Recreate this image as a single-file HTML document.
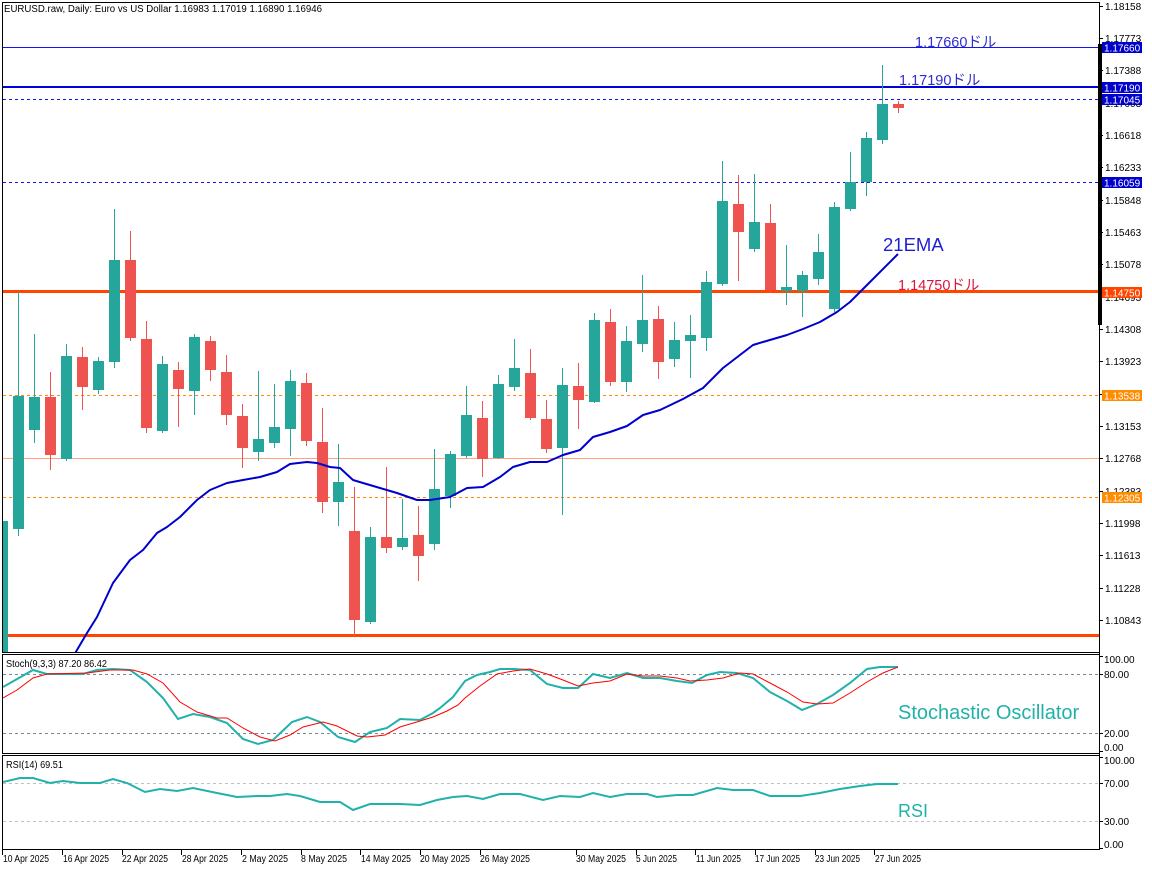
<!DOCTYPE html>
<html><head><meta charset="utf-8"><style>
html,body{margin:0;padding:0;background:#fff;}
svg{display:block;}
</style></head><body>
<svg width="1152" height="870" viewBox="0 0 1152 870" xmlns="http://www.w3.org/2000/svg" font-family="'Liberation Sans', 'Noto Sans CJK JP', sans-serif">
<defs>
<clipPath id="cm"><rect x="3" y="3" width="1096" height="649"/></clipPath>
<clipPath id="cs"><rect x="3" y="655" width="1096" height="98"/></clipPath>
<clipPath id="cr"><rect x="3" y="756" width="1096" height="93"/></clipPath>
</defs>
<rect width="1152" height="870" fill="#fff"/>

<!-- main panel horizontal lines -->
<g clip-path="url(#cm)" shape-rendering="crispEdges">
<rect x="3" y="47" width="1096" height="1" fill="#1414F0"/>
<rect x="3" y="86" width="1096" height="2" fill="#0000D8"/>
<line x1="3" y1="99.5" x2="1099" y2="99.5" stroke="#1414F0" stroke-width="1" stroke-dasharray="3,3"/>
<line x1="3" y1="182.5" x2="1099" y2="182.5" stroke="#1414F0" stroke-width="1" stroke-dasharray="3,3"/>
<rect x="3" y="290" width="1096" height="3" fill="#FF4500"/>
<line x1="3" y1="395.5" x2="1099" y2="395.5" stroke="#FF8C00" stroke-width="1" stroke-dasharray="3,3"/>
<rect x="3" y="458" width="1096" height="1" fill="#FFA07A"/>
<line x1="3" y1="497.5" x2="1099" y2="497.5" stroke="#FF8C00" stroke-width="1" stroke-dasharray="3,3"/>
<rect x="3" y="634" width="1096" height="3" fill="#FF4500"/>

<!-- green candles -->
<g fill="#26A69A">
<rect x="-3" y="521" width="11" height="140"/>
<rect x="18" y="292" width="1" height="244"/><rect x="13" y="396" width="11" height="133"/>
<rect x="34" y="334" width="1" height="109"/><rect x="29" y="397" width="11" height="33"/>
<rect x="66" y="344" width="1" height="117"/><rect x="61" y="356" width="11" height="103"/>
<rect x="98" y="357" width="1" height="37"/><rect x="93" y="361" width="11" height="29"/>
<rect x="114" y="209" width="1" height="159"/><rect x="109" y="260" width="11" height="102"/>
<rect x="162" y="356" width="1" height="77"/><rect x="157" y="364" width="11" height="67"/>
<rect x="194" y="334" width="1" height="81"/><rect x="189" y="337" width="11" height="54"/>
<rect x="258" y="371" width="1" height="90"/><rect x="253" y="439" width="11" height="13"/>
<rect x="274" y="384" width="1" height="64"/><rect x="269" y="427" width="11" height="16"/>
<rect x="290" y="370" width="1" height="86"/><rect x="285" y="381" width="11" height="48"/>
<rect x="338" y="444" width="1" height="82"/><rect x="333" y="482" width="11" height="20"/>
<rect x="370" y="527" width="1" height="97"/><rect x="365" y="537" width="11" height="85"/>
<rect x="402" y="499" width="1" height="51"/><rect x="397" y="538" width="11" height="9"/>
<rect x="434" y="449" width="1" height="101"/><rect x="429" y="489" width="11" height="55"/>
<rect x="450" y="451" width="1" height="57"/><rect x="445" y="454" width="11" height="42"/>
<rect x="466" y="386" width="1" height="72"/><rect x="461" y="415" width="11" height="41"/>
<rect x="498" y="375" width="1" height="84"/><rect x="493" y="384" width="11" height="74"/>
<rect x="514" y="339" width="1" height="52"/><rect x="509" y="368" width="11" height="19"/>
<rect x="562" y="368" width="1" height="147"/><rect x="557" y="385" width="11" height="63"/>
<rect x="594" y="313" width="1" height="90"/><rect x="589" y="320" width="11" height="82"/>
<rect x="626" y="326" width="1" height="66"/><rect x="621" y="341" width="11" height="41"/>
<rect x="642" y="275" width="1" height="77"/><rect x="637" y="320" width="11" height="24"/>
<rect x="674" y="322" width="1" height="45"/><rect x="669" y="340" width="11" height="19"/>
<rect x="690" y="315" width="1" height="63"/><rect x="685" y="335" width="11" height="6"/>
<rect x="706" y="271" width="1" height="80"/><rect x="701" y="282" width="11" height="56"/>
<rect x="722" y="161" width="1" height="125"/><rect x="717" y="201" width="11" height="83"/>
<rect x="754" y="174" width="1" height="78"/><rect x="749" y="222" width="11" height="27"/>
<rect x="786" y="245" width="1" height="60"/><rect x="781" y="287" width="11" height="4"/>
<rect x="802" y="271" width="1" height="46"/><rect x="797" y="275" width="11" height="16"/>
<rect x="818" y="234" width="1" height="51"/><rect x="813" y="252" width="11" height="27"/>
<rect x="834" y="202" width="1" height="110"/><rect x="829" y="207" width="11" height="102"/>
<rect x="850" y="152" width="1" height="59"/><rect x="845" y="182" width="11" height="27"/>
<rect x="866" y="132" width="1" height="64"/><rect x="861" y="138" width="11" height="44"/>
<rect x="882" y="65" width="1" height="79"/><rect x="877" y="104" width="11" height="36"/>
</g>
<!-- red candles -->
<g fill="#EF5350">
<rect x="50" y="372" width="1" height="98"/><rect x="45" y="397" width="11" height="58"/>
<rect x="82" y="347" width="1" height="63"/><rect x="77" y="357" width="11" height="30"/>
<rect x="130" y="231" width="1" height="110"/><rect x="125" y="260" width="11" height="78"/>
<rect x="146" y="321" width="1" height="112"/><rect x="141" y="339" width="11" height="89"/>
<rect x="178" y="362" width="1" height="65"/><rect x="173" y="370" width="11" height="19"/>
<rect x="210" y="336" width="1" height="45"/><rect x="205" y="341" width="11" height="29"/>
<rect x="226" y="355" width="1" height="70"/><rect x="221" y="372" width="11" height="43"/>
<rect x="242" y="404" width="1" height="64"/><rect x="237" y="416" width="11" height="32"/>
<rect x="306" y="373" width="1" height="73"/><rect x="301" y="383" width="11" height="58"/>
<rect x="322" y="408" width="1" height="105"/><rect x="317" y="442" width="11" height="60"/>
<rect x="354" y="487" width="1" height="149"/><rect x="349" y="531" width="11" height="89"/>
<rect x="386" y="467" width="1" height="86"/><rect x="381" y="537" width="11" height="11"/>
<rect x="418" y="506" width="1" height="75"/><rect x="413" y="535" width="11" height="21"/>
<rect x="482" y="401" width="1" height="76"/><rect x="477" y="418" width="11" height="41"/>
<rect x="530" y="349" width="1" height="71"/><rect x="525" y="373" width="11" height="45"/>
<rect x="546" y="400" width="1" height="53"/><rect x="541" y="419" width="11" height="30"/>
<rect x="578" y="363" width="1" height="66"/><rect x="573" y="386" width="11" height="14"/>
<rect x="610" y="309" width="1" height="77"/><rect x="605" y="322" width="11" height="60"/>
<rect x="658" y="306" width="1" height="73"/><rect x="653" y="319" width="11" height="43"/>
<rect x="738" y="175" width="1" height="106"/><rect x="733" y="204" width="11" height="28"/>
<rect x="770" y="204" width="1" height="89"/><rect x="765" y="223" width="11" height="67"/>
<rect x="898" y="101" width="1" height="12"/><rect x="893" y="104" width="11" height="4"/>
</g>
</g>

<!-- EMA -->
<g clip-path="url(#cm)">
<polyline fill="none" stroke="#0000CD" stroke-width="2" stroke-linejoin="round" points="70,662 77,650 87,633 97,617 113,583 130,560 143,550 157,533 167,527 180,517 197,500 210,490 227,483 243,480 260,477 277,472 290,464 307,462 317,463 330,467 340,468 353,480 363,483 380,488 397,493 417,500 430,500 450,497 467,488 483,487 500,477 513,467 530,462 547,462 563,455 580,450 593,437 610,432 627,426 643,415 660,410 683,399 703,388 723,368 753,345 763,342 787,335 803,329 820,322 837,312 850,302 870,282 898,254"/>
</g>

<!-- line labels -->
<text x="915" y="47" font-size="14.5" fill="#3030CC">1.17660ドル</text>
<text x="899" y="85" font-size="14.5" fill="#3030CC">1.17190ドル</text>
<text x="883" y="251" font-size="18.5" fill="#1F1FD0">21EMA</text>
<text x="898" y="290" font-size="14.5" fill="#DC143C">1.14750ドル</text>

<!-- header -->
<text x="4" y="12" font-size="10" fill="#000" textLength="318" lengthAdjust="spacingAndGlyphs">EURUSD.raw, Daily:  Euro vs US Dollar  1.16983 1.17019 1.16890 1.16946</text>

<!-- Stoch panel -->
<g clip-path="url(#cs)">
<line x1="3" y1="674.5" x2="1099" y2="674.5" stroke="#778899" stroke-width="1" stroke-dasharray="3,3"/>
<line x1="3" y1="733.5" x2="1099" y2="733.5" stroke="#778899" stroke-width="1" stroke-dasharray="3,3"/>
<polyline fill="none" stroke="#20B2AA" stroke-width="2" points="3,687 33,670 47,674 67,674 83,674 97,670 113,669 130,670 147,682 163,698 178,719 193,714 210,717 227,723 243,739 258,744 273,740 292,722 307,717 320,722 338,737 355,742 370,732 387,728 400,719 420,720 433,713 440,708 453,697 465,681 477,675 490,672 500,669 513,669 530,670 547,684 563,688 578,688 593,674 610,678 627,673 643,678 660,678 677,681 692,683 707,675 720,672 737,673 753,678 770,692 787,701 802,710 817,704 833,695 850,683 867,669 880,667 898,667"/>
<polyline fill="none" stroke="#FF0000" stroke-width="1" points="3,698 17,690 33,678 47,674 87,673 110,670 133,670 147,674 163,683 180,702 197,712 217,718 227,718 243,728 260,737 275,741 290,735 303,727 323,722 337,726 357,736 367,737 385,735 400,727 420,721 433,717 447,711 458,705 465,698 480,686 497,674 513,671 530,669 547,674 563,680 578,686 593,683 610,681 627,674 643,676 660,676 677,678 690,681 707,680 723,678 740,673 753,674 770,683 787,692 803,702 817,704 833,703 850,693 867,682 883,673 898,667"/>
</g>
<text x="6" y="667" font-size="10" fill="#000" textLength="101" lengthAdjust="spacingAndGlyphs">Stoch(9,3,3) 87.20 86.42</text>
<text x="898" y="719" font-size="20" fill="#20B2AA">Stochastic Oscillator</text>

<!-- RSI panel -->
<g clip-path="url(#cr)">
<line x1="3" y1="783.5" x2="1099" y2="783.5" stroke="#C0C0C0" stroke-width="1" stroke-dasharray="3,3"/>
<line x1="3" y1="821.5" x2="1099" y2="821.5" stroke="#C0C0C0" stroke-width="1" stroke-dasharray="3,3"/>
<polyline fill="none" stroke="#20B2AA" stroke-width="2" points="3,782 20,778 33,778 50,783 63,781 80,783 100,783 113,779 127,783 145,792 160,789 177,791 193,788 217,793 237,797 257,796 270,796 287,794 300,796 320,802 340,802 353,810 370,804 400,804 420,805 437,800 453,797 467,796 483,799 500,794 520,794 543,800 560,796 580,797 593,793 610,797 627,794 647,794 657,797 677,795 693,795 717,788 733,790 753,790 770,796 800,796 820,793 840,789 860,786 877,784 898,784"/>
</g>
<text x="6" y="768" font-size="10" fill="#000" textLength="57" lengthAdjust="spacingAndGlyphs">RSI(14) 69.51</text>
<text x="898" y="817" font-size="18" fill="#20B2AA">RSI</text>

<!-- frames -->
<g shape-rendering="crispEdges" stroke="#000" stroke-width="1" fill="none">
<line x1="2" y1="2.5" x2="1100" y2="2.5"/>
<line x1="2.5" y1="2" x2="2.5" y2="653"/>
<line x1="2" y1="652.5" x2="1100" y2="652.5"/>
<line x1="2" y1="654.5" x2="1100" y2="654.5"/>
<line x1="2.5" y1="654" x2="2.5" y2="754"/>
<line x1="2" y1="753.5" x2="1100" y2="753.5"/>
<line x1="2" y1="755.5" x2="1100" y2="755.5"/>
<line x1="2.5" y1="755" x2="2.5" y2="850"/>
<line x1="2" y1="849.5" x2="1100" y2="849.5"/>
<line x1="1099.5" y1="2" x2="1099.5" y2="850"/>
</g>
<rect x="1098" y="44" width="4" height="281" fill="#000"/>

<!-- price axis ticks -->
<g stroke="#000" stroke-width="1" shape-rendering="crispEdges">
<line x1="1099" y1="6.5" x2="1103" y2="6.5"/><line x1="1099" y1="38.5" x2="1103" y2="38.5"/>
<line x1="1099" y1="70.5" x2="1103" y2="70.5"/><line x1="1099" y1="103.5" x2="1103" y2="103.5"/>
<line x1="1099" y1="135.5" x2="1103" y2="135.5"/><line x1="1099" y1="167.5" x2="1103" y2="167.5"/>
<line x1="1099" y1="200.5" x2="1103" y2="200.5"/><line x1="1099" y1="232.5" x2="1103" y2="232.5"/>
<line x1="1099" y1="264.5" x2="1103" y2="264.5"/><line x1="1099" y1="297.5" x2="1103" y2="297.5"/>
<line x1="1099" y1="329.5" x2="1103" y2="329.5"/><line x1="1099" y1="361.5" x2="1103" y2="361.5"/>
<line x1="1099" y1="394.5" x2="1103" y2="394.5"/><line x1="1099" y1="426.5" x2="1103" y2="426.5"/>
<line x1="1099" y1="458.5" x2="1103" y2="458.5"/><line x1="1099" y1="491.5" x2="1103" y2="491.5"/>
<line x1="1099" y1="523.5" x2="1103" y2="523.5"/><line x1="1099" y1="555.5" x2="1103" y2="555.5"/>
<line x1="1099" y1="588.5" x2="1103" y2="588.5"/><line x1="1099" y1="620.5" x2="1103" y2="620.5"/>
<line x1="1099" y1="656.5" x2="1103" y2="656.5"/><line x1="1099" y1="674.5" x2="1103" y2="674.5"/>
<line x1="1099" y1="733.5" x2="1103" y2="733.5"/><line x1="1099" y1="751.5" x2="1103" y2="751.5"/>
<line x1="1099" y1="757.5" x2="1103" y2="757.5"/><line x1="1099" y1="783.5" x2="1103" y2="783.5"/>
<line x1="1099" y1="821.5" x2="1103" y2="821.5"/><line x1="1099" y1="848.5" x2="1103" y2="848.5"/>
</g>
<g font-size="10" fill="#000">
<text x="1105" y="10">1.18158</text><text x="1105" y="42">1.17773</text>
<text x="1105" y="74">1.17388</text><text x="1105" y="107">1.17003</text>
<text x="1105" y="139">1.16618</text><text x="1105" y="171">1.16233</text>
<text x="1105" y="204">1.15848</text><text x="1105" y="236">1.15463</text>
<text x="1105" y="268">1.15078</text><text x="1105" y="301">1.14693</text>
<text x="1105" y="333">1.14308</text><text x="1105" y="365">1.13923</text>
<text x="1105" y="398">1.13538</text><text x="1105" y="430">1.13153</text>
<text x="1105" y="462">1.12768</text><text x="1105" y="495">1.12383</text>
<text x="1105" y="527">1.11998</text><text x="1105" y="559">1.11613</text>
<text x="1105" y="592">1.11228</text><text x="1105" y="624">1.10843</text>
<text x="1104" y="663">100.00</text><text x="1104" y="678">80.00</text>
<text x="1104" y="737">20.00</text><text x="1104" y="751">0.00</text>
<text x="1104" y="764">100.00</text><text x="1104" y="787">70.00</text>
<text x="1104" y="825">30.00</text><text x="1104" y="848">0.00</text>
</g>

<!-- price label boxes -->
<g shape-rendering="crispEdges">
<rect x="1102" y="42" width="40" height="11" fill="#0000CD"/>
<rect x="1102" y="82" width="40" height="11" fill="#0000CD"/>
<rect x="1102" y="94" width="40" height="11" fill="#0000CD"/>
<rect x="1102" y="177" width="40" height="11" fill="#0000CD"/>
<rect x="1102" y="287" width="40" height="11" fill="#FF4500"/>
<rect x="1102" y="390" width="40" height="11" fill="#FF8C00"/>
<rect x="1102" y="492" width="40" height="11" fill="#FF8C00"/>
</g>
<g font-size="10" fill="#fff">
<text x="1104" y="51.5">1.17660</text>
<text x="1104" y="91.5">1.17190</text>
<text x="1104" y="103.5">1.17045</text>
<text x="1104" y="186.5">1.16059</text>
<text x="1104" y="296.5">1.14750</text>
<text x="1104" y="399.5">1.13538</text>
<text x="1104" y="501.5">1.12305</text>
</g>

<!-- time axis -->
<g stroke="#000" stroke-width="1" shape-rendering="crispEdges">
<line x1="2.5" y1="850" x2="2.5" y2="855"/><line x1="62.5" y1="850" x2="62.5" y2="855"/>
<line x1="122.5" y1="850" x2="122.5" y2="855"/><line x1="181.5" y1="850" x2="181.5" y2="855"/>
<line x1="241.5" y1="850" x2="241.5" y2="855"/><line x1="301.5" y1="850" x2="301.5" y2="855"/>
<line x1="360.5" y1="850" x2="360.5" y2="855"/><line x1="420.5" y1="850" x2="420.5" y2="855"/>
<line x1="480.5" y1="850" x2="480.5" y2="855"/><line x1="576.5" y1="850" x2="576.5" y2="855"/>
<line x1="636.5" y1="850" x2="636.5" y2="855"/><line x1="695.5" y1="850" x2="695.5" y2="855"/>
<line x1="755.5" y1="850" x2="755.5" y2="855"/><line x1="815.5" y1="850" x2="815.5" y2="855"/>
<line x1="874.5" y1="850" x2="874.5" y2="855"/>
</g>
<g font-size="10" fill="#000">
<text x="3" y="862" textLength="46" lengthAdjust="spacingAndGlyphs">10 Apr 2025</text>
<text x="63" y="862" textLength="46" lengthAdjust="spacingAndGlyphs">16 Apr 2025</text>
<text x="122" y="862" textLength="46" lengthAdjust="spacingAndGlyphs">22 Apr 2025</text>
<text x="182" y="862" textLength="46" lengthAdjust="spacingAndGlyphs">28 Apr 2025</text>
<text x="242" y="862" textLength="46" lengthAdjust="spacingAndGlyphs">2 May 2025</text>
<text x="301" y="862" textLength="46" lengthAdjust="spacingAndGlyphs">8 May 2025</text>
<text x="361" y="862" textLength="50" lengthAdjust="spacingAndGlyphs">14 May 2025</text>
<text x="420" y="862" textLength="50" lengthAdjust="spacingAndGlyphs">20 May 2025</text>
<text x="480" y="862" textLength="50" lengthAdjust="spacingAndGlyphs">26 May 2025</text>
<text x="576" y="862" textLength="50" lengthAdjust="spacingAndGlyphs">30 May 2025</text>
<text x="636" y="862" textLength="41" lengthAdjust="spacingAndGlyphs">5 Jun 2025</text>
<text x="696" y="862" textLength="45" lengthAdjust="spacingAndGlyphs">11 Jun 2025</text>
<text x="755" y="862" textLength="45" lengthAdjust="spacingAndGlyphs">17 Jun 2025</text>
<text x="815" y="862" textLength="45" lengthAdjust="spacingAndGlyphs">23 Jun 2025</text>
<text x="875" y="862" textLength="46" lengthAdjust="spacingAndGlyphs">27 Jun 2025</text>
</g>
</svg>
</body></html>
